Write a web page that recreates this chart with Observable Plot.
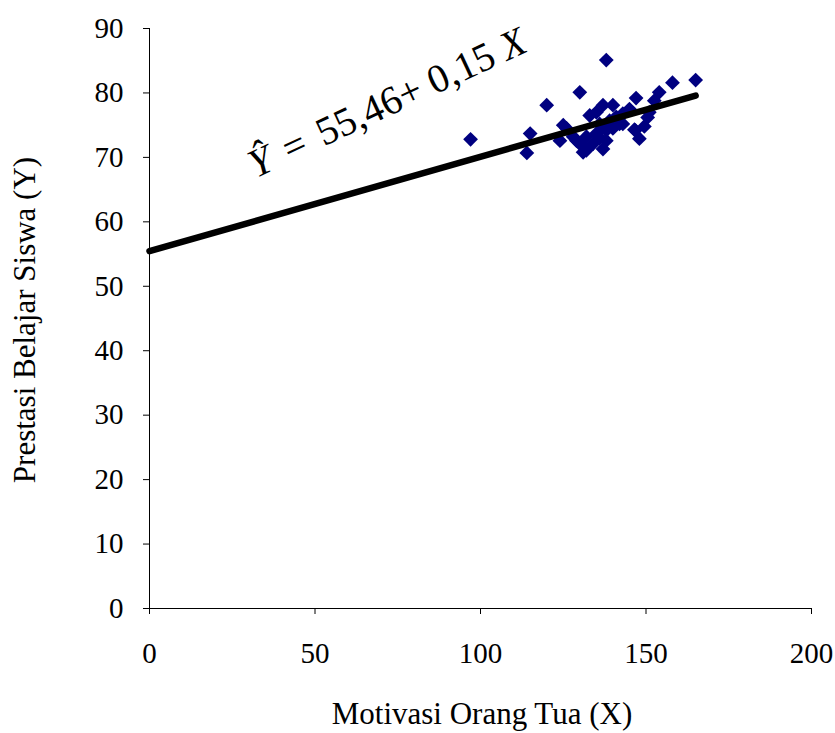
<!DOCTYPE html>
<html>
<head>
<meta charset="utf-8">
<script src="https://cdn.jsdelivr.net/npm/d3@7"></script>
<script src="https://cdn.jsdelivr.net/npm/@observablehq/plot@0.6"></script>
<style>
  html, body { margin: 0; padding: 0; background: #fff; }
  #chart svg { display: block; font-family: "Liberation Serif", "DejaVu Serif", serif; }
</style>
</head>
<body>
<div id="chart"></div>
<script>
// Scatter data: Motivasi Orang Tua (X) vs Prestasi Belajar Siswa (Y)
const motivasiX = [97, 114, 115, 120, 130, 138, 158, 165, 125, 124,
  147, 154, 152.5, 148, 146.5, 149.5, 150.5, 131, 137, 133,
  137, 140, 143, 143, 128, 129, 132, 135, 138, 136,
  139, 134, 138, 141, 135, 132, 126, 145, 136, 140,
  151, 142, 130, 146.8];
const prestasiY = [72.8, 70.7, 73.7, 78.1, 80.1, 85.1, 81.6, 82.0, 75.0, 72.6,
  79.2, 80.1, 78.8, 72.9, 74.3, 74.8, 76.2, 70.8, 71.3, 76.5,
  78.1, 78.1, 76.8, 75.2, 73.2, 72.6, 73.2, 73.7, 74.2, 75.2,
  75.7, 72.1, 72.6, 76.3, 77.0, 71.1, 74.5, 77.5, 73.0, 74.5,
  77.0, 75.2, 72.1, 74.2];

// Regression line Ŷ = 55,46 + 0,15 X (endpoints)
const lineX = [0, 165];
const lineY = [55.46, 79.6];

const xTicks = [0, 50, 100, 150, 200];
const yTicks = [0, 10, 20, 30, 40, 50, 60, 70, 80, 90];

const xTitle = "Motivasi Orang Tua (X)";
const yTitle = "Prestasi Belajar Siswa (Y)";

const points = motivasiX.map((x, i) => ({x, y: prestasiY[i]}));
const line = lineX.map((x, i) => ({x, y: lineY[i]}));

const plot = Plot.plot({
  width: 835,
  height: 733,
  marginLeft: 149,
  marginRight: 24,
  marginTop: 28,
  marginBottom: 125,
  style: {fontFamily: "Liberation Serif", fontSize: "29px", color: "#000", background: "#fff"},
  x: {domain: [0, 200]},
  y: {domain: [0, 90]},
  marks: [
    Plot.axisY({ticks: yTicks, tickSize: 6, tickPadding: 20, label: null, fontSize: 29}),
    Plot.axisX({ticks: xTicks, tickSize: 6, tickPadding: 28, label: null, fontSize: 29}),
    Plot.ruleX([0], {stroke: "#000", strokeWidth: 1}),
    Plot.ruleY([0], {stroke: "#000", strokeWidth: 1}),
    Plot.dot(points, {x: "x", y: "y", symbol: "square", r: 5.9, rotate: 45, fill: "#000080", stroke: "none"}),
    Plot.line(line, {x: "x", y: "y", stroke: "#000", strokeWidth: 6.5})
  ]
});

document.getElementById("chart").appendChild(plot);

const svg = d3.select(plot);
const xs = plot.scale("x"), ys = plot.scale("y");

// Equation annotation
const ex = xs.apply(32.3), ey = ys.apply(66.7);
const eq = svg.append("text")
  .attr("transform", `translate(${ex},${ey}) rotate(-25)`)
  .attr("text-anchor", "start")
  .attr("font-size", 40)
  .attr("font-family", "Liberation Serif")
  .attr("fill", "#000");
eq.append("tspan").attr("font-style", "italic").text("Ŷ");
eq.append("tspan").attr("dx", 15).text("=");
eq.append("tspan").attr("dx", 15).text("55,46+ 0,15");
eq.append("tspan").attr("dx", 10).attr("font-style", "italic").text("X");

// Axis titles
svg.append("text")
  .attr("x", 482).attr("y", 724)
  .attr("text-anchor", "middle")
  .attr("font-size", 31)
  .attr("font-family", "Liberation Serif")
  .text(xTitle);
svg.append("text")
  .attr("transform", `translate(35,320) rotate(-90)`)
  .attr("text-anchor", "middle")
  .attr("font-size", 31)
  .attr("font-family", "Liberation Serif")
  .text(yTitle);
</script>
</body>
</html>
